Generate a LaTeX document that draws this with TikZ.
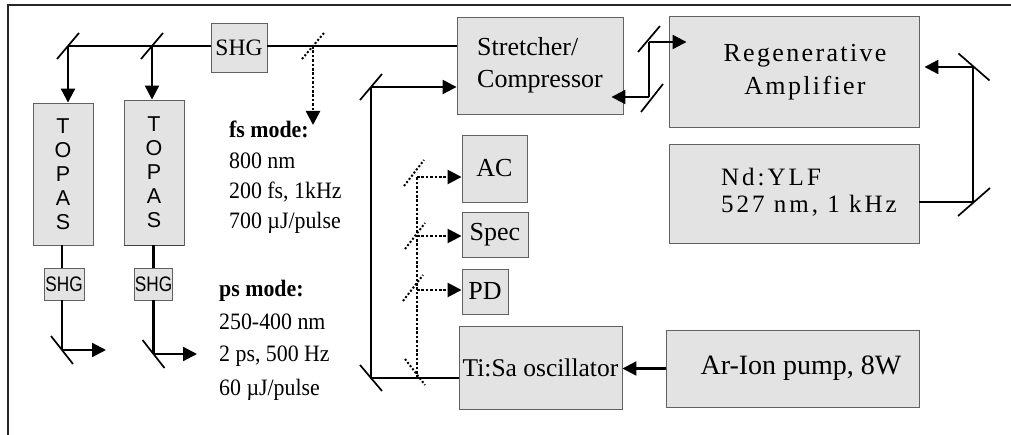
\documentclass[tikz,border=0pt]{standalone}
\usepackage{fontspec}
\setmainfont{Liberation Serif}
\newfontfamily\sansfont{Liberation Sans}
\newfontfamily\sanscond{Liberation Sans}[FakeStretch=0.82]
\newfontfamily\serifcond{Liberation Serif}[FakeStretch=0.93]
\usetikzlibrary{arrows.meta}
\newcommand\slashmirror[4][mirror]{\draw[#1] (#2) ++(-#3,#4) -- ++(2*#3,-2*#4);}
\newcommand\backmirror[4][mirror]{\draw[#1] (#2) ++(-#3,-#4) -- ++(2*#3,2*#4);}
\begin{document}
\begin{tikzpicture}[x=1pt,y=-1pt,
  box/.style={draw=black!62, fill=black!11, line width=0.9pt, inner sep=0pt, font=\fontsize{26}{32}\selectfont},
  beam/.style={line width=2.2pt},
  beamarrow/.style={line width=2.2pt, -{Triangle[length=14pt,width=14pt]}},
  dotarrow/.style={line width=2.6pt, dash pattern=on 2.6pt off 1.8pt, -{Triangle[length=14pt,width=14pt]}},
  dotbeam/.style={line width=2.6pt, dash pattern=on 2.6pt off 1.8pt},
  mirror/.style={line width=1.7pt},
  dmirror/.style={line width=2pt, dash pattern=on 2pt off 2pt},
  frameline/.style={line width=1.5pt, black!85},
  info/.style={anchor=base west, inner sep=0pt, font=\serifcond\fontsize{23.5}{28}\selectfont},
  infohead/.style={info, font=\serifcond\fontsize{23.5}{28}\selectfont\bfseries}]
\useasboundingbox (0,0) rectangle (1011,435);
\draw[frameline] (8,435) -- (8,5) -- (1011,5);

% boxes
\node[box, minimum width=56, minimum height=49, font=\fontsize{23.5}{27}\selectfont] (shg) at (239,47.5) {SHG};
\node[box, minimum width=60, minimum height=142, align=center, font=\sansfont\fontsize{21.5}{24}\selectfont] (topas1) at (63,174) {T\\O\\P\\A\\S};
\node[box, minimum width=60, minimum height=145, align=center, font=\sansfont\fontsize{21.5}{24}\selectfont] (topas2) at (154,172.5) {T\\O\\P\\A\\S};
\draw[line width=1.6pt, black!75] (topas2.south west) -- (topas2.south east);
\node[box, minimum width=40, minimum height=32, font=\sanscond\fontsize{21}{24}\selectfont] (shgs1) at (64,284) {SHG};
\node[box, minimum width=37, minimum height=32, font=\sanscond\fontsize{21}{24}\selectfont] (shgs2) at (153.5,284) {SHG};
\node[box, minimum width=166, minimum height=97] (stretch) at (540,65.5)
  {\begin{tabular}{@{}l@{}}Stretcher/\\Compressor\end{tabular}};
\node[box, minimum width=65, minimum height=67] (ac) at (494.5,168.5) {AC};
\node[box, minimum width=66, minimum height=45] (spec) at (495,234.5) {Spec};
\node[box, minimum width=46, minimum height=45] (pd) at (485,291.5) {PD};
\node[box, minimum width=163, minimum height=83, font=\fontsize{25.5}{29}\selectfont] (tisa) at (540.5,367.5) {Ti:Sa oscillator};
\node[box, minimum width=250, minimum height=111, font=\fontsize{26}{33}\selectfont\addfontfeature{LetterSpace=9}] (regen) at (794,71.5)
  {\begin{tabular}{@{\hspace{22pt}}c@{}}Regenerative\\Amplifier\end{tabular}};
\node[box, minimum width=250, minimum height=99, font=\fontsize{25}{27}\selectfont\addfontfeature{LetterSpace=12}] (nd) at (794,193.5)
  {\begin{tabular}{@{\hspace{30pt}}l@{}}Nd:YLF\\527 nm, 1 kHz\end{tabular}};
\node[box, minimum width=253, minimum height=77, font=\fontsize{28}{32}\selectfont] (ar) at (792.5,368.5)
  {\begin{tabular}{@{\hspace{17pt}}c@{}}Ar-Ion pump, 8W\end{tabular}};

% info text
\node[infohead] (fs1) at (229,138) {fs mode:};
\node[info] (fs2) at (229,169) {800 nm};
\node[info] (fs3) at (229,199) {200 fs, 1kHz};
\node[info] (fs4) at (229,229) {700 µJ/pulse};
\node[infohead] (ps1) at (219,297) {ps mode:};
\node[info] (ps2) at (219,330) {250-400 nm};
\node[info] (ps3) at (219,361) {2 ps, 500 Hz};
\node[info] (ps4) at (219,395) {60 µJ/pulse};

% beam points
\coordinate (m1) at (68,46);
\coordinate (m2) at (152,46);
\coordinate (md) at (313,46);
\coordinate (fsend) at (313,125);
\coordinate (mb1) at (62,350);
\coordinate (out1) at (106,350);
\coordinate (mb2) at (153.5,354);
\coordinate (out2) at (197,354);
\coordinate (ms1) at (371,87);
\coordinate (ms2) at (371,378);
\coordinate (dm1) at (417,177);
\coordinate (dm2) at (417,236);
\coordinate (dm3) at (417,290);
\coordinate (dm4) at (417,378);
\coordinate (mr1) at (649,42);
\coordinate (mr2) at (649,97);
\coordinate (mn1) at (973,67);
\coordinate (mn2) at (973,202);

% main beam
\draw[beam] (m1) -- (m1 -| shg.west);
\draw[beam] (shg.east |- m1) -- (m1 -| stretch.west);
\draw[beamarrow] (m1) -- (m1 |- topas1.north);
\draw[beamarrow] (m2) -- (m2 |- topas2.north);
\slashmirror{m1}{11}{13}
\slashmirror{m2}{11}{13}
\draw[dotarrow] (md) -- (fsend);
\slashmirror[dmirror]{md}{11}{13}

% TOPAS outputs
\draw[beam] (topas1.south -| mb1) -- (shgs1.north -| mb1);
\draw[beam] (shgs1.south -| mb1) -- (mb1);
\draw[beamarrow] (mb1) -- (out1);
\backmirror{mb1}{11}{14}
\draw[beam] (topas2.south -| mb2) -- (shgs2.north -| mb2);
\draw[beam] (shgs2.south -| mb2) -- (mb2);
\draw[beamarrow] (mb2) -- (out2);
\backmirror{mb2}{11}{14}

% oscillator to stretcher
\draw[beam] (ms1) -- (ms2) -- (ms2 -| tisa.west);
\draw[beamarrow] (ms1) -- (ms1 -| stretch.west);
\slashmirror{ms1}{11}{13}
\backmirror{ms2}{11}{13}

% diagnostics
\draw[dotbeam] (dm4) -- (dm1);
\draw[dotarrow] (dm1) -- (dm1 -| ac.west);
\draw[dotarrow] (dm2) -- (dm2 -| spec.west);
\draw[dotarrow] (dm3) -- (dm3 -| pd.west);
\slashmirror[dmirror]{[shift={(-3,-4)}]dm1}{10}{13}
\slashmirror[dmirror]{[shift={(-2,0)}]dm2}{10}{13}
\slashmirror[dmirror]{[shift={(-4,-2)}]dm3}{10}{13}
\backmirror[dmirror]{[shift={(-2,-6)}]dm4}{10}{13}

% pump
\draw[beamarrow] (ar.west) -- (ar.west -| tisa.east);

% stretcher <-> regen
\draw[beam] (mr1) -- (mr2);
\draw[beamarrow] (mr1) -- ([xshift=18pt]mr1 -| regen.west);
\draw[beamarrow] (mr2) -- ([xshift=-12pt]mr2 -| stretch.east);
\slashmirror{[shift={(0,-3)}]mr1}{11}{13}
\slashmirror{[shift={(3,1)}]mr2}{11}{14}

% Nd:YLF pump to regen
\draw[beam] (mn2 -| nd.east) -- (mn2) -- (mn1);
\draw[beamarrow] (mn1) -- ([xshift=5pt]mn1 -| regen.east);
\backmirror{[shift={(1,0)}]mn1}{15.5}{13.5}
\slashmirror{[shift={(1,0)}]mn2}{16}{14}
\end{tikzpicture}
\end{document}
